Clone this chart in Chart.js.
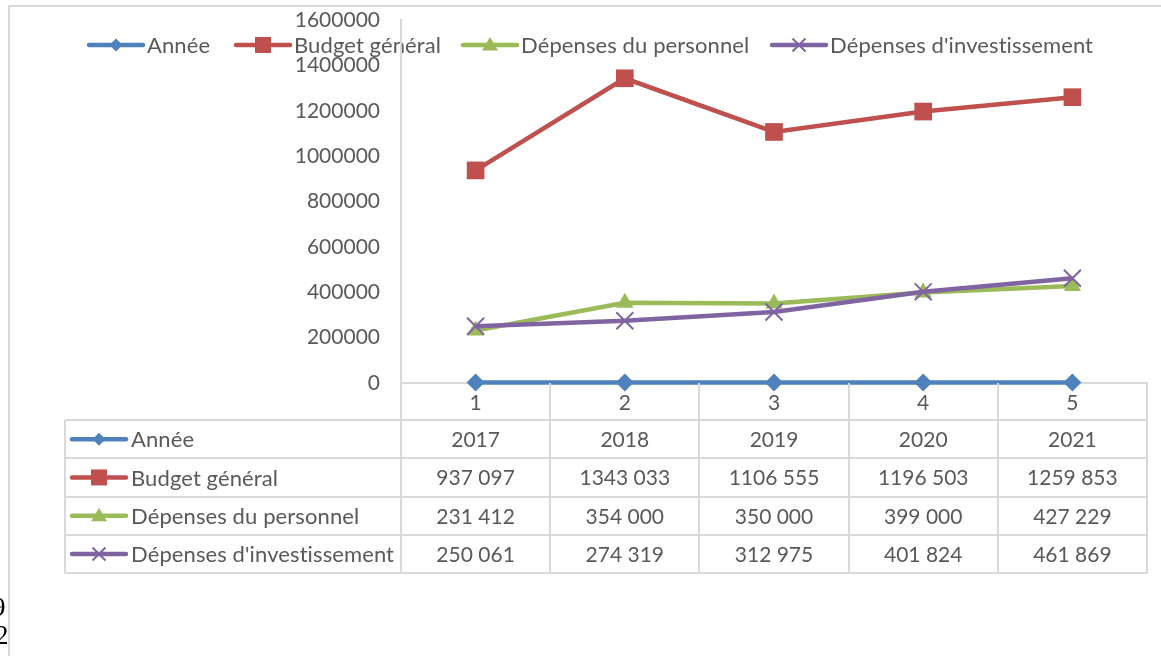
<!DOCTYPE html>
<html>
<head>
<meta charset="utf-8">
<script src="https://cdn.jsdelivr.net/npm/chart.js@4.4.0/dist/chart.umd.min.js"></script>
<style>
  html, body { margin: 0; padding: 0; background: #fff; overflow: hidden; }
  #wrap { position: relative; width: 1161px; height: 656px; }
  #c { position: absolute; left: 0; top: 0; }
  .clip { position: absolute; left: 0; width: 9px; height: 34px; overflow: hidden; }
  .clip span { position: absolute; left: -5px; top: 0; font-family: "Liberation Serif", serif; font-size: 27px; color: #000; }
</style>
</head>
<body>
<div id="wrap">
  <canvas id="c" width="1161" height="656"></canvas>
  <div class="clip" style="top:592px"><span style="left:-8px">9</span></div>
  <div class="clip" style="top:620px"><span>2</span></div>
</div>
<script>
// data
const categories = ['1', '2', '3', '4', '5']
const annee = [2017, 2018, 2019, 2020, 2021]
const budget = [937097, 1343033, 1106555, 1196503, 1259853]
const personnel = [231412, 354000, 350000, 399000, 427229]
const investissement = [250061, 274319, 312975, 401824, 461869]
const seriesNames = ['Année', 'Budget général', 'Dépenses du personnel', "Dépenses d'investissement"]
const yTicks = [0, 200000, 400000, 600000, 800000, 1000000, 1200000, 1400000, 1600000]

const colors = ['#4F81BD', '#C0504D', '#9BBB59', '#8064A2']
const markers = ['rectRot', 'rect', 'triangle', 'crossRot']
const radii = [9, 12.5, 10, 12]
const seriesData = [annee, budget, personnel, investissement]
const textColor = '#595959'
const lineGray = '#D9D9D9'
const FONT = 'Lato, "Open Sans", sans-serif'
const numFont = { family: FONT, size: 21 }

// 937097 -> "937 097", 1343033 -> "1343 033"
const fmt = v => v >= 1000 ? Math.floor(v / 1000) + ' ' + String(v % 1000).padStart(3, '0') : String(v)
const rowFmt = [v => String(v), fmt, fmt, fmt]

function marker(ctx, style, x, y, s, color) {
  ctx.save()
  ctx.fillStyle = color; ctx.strokeStyle = color
  ctx.beginPath()
  if (style === 'rectRot') {
    ctx.moveTo(x, y - s); ctx.lineTo(x + s, y); ctx.lineTo(x, y + s); ctx.lineTo(x - s, y); ctx.closePath(); ctx.fill()
  } else if (style === 'rect') {
    ctx.rect(x - s, y - s, 2 * s, 2 * s); ctx.fill()
  } else if (style === 'triangle') {
    ctx.moveTo(x, y - s); ctx.lineTo(x + s, y + s * 0.7); ctx.lineTo(x - s, y + s * 0.7); ctx.closePath(); ctx.fill()
  } else {
    ctx.lineWidth = 2
    ctx.moveTo(x - s, y - s); ctx.lineTo(x + s, y + s); ctx.moveTo(x + s, y - s); ctx.lineTo(x - s, y + s); ctx.stroke()
  }
  ctx.restore()
}
const legendSizes = [6.5, 8, 8, 6.5]

function symbol(ctx, i, x0, y) {
  ctx.save()
  ctx.strokeStyle = colors[i]; ctx.lineWidth = 4.5; ctx.lineCap = 'round'
  ctx.beginPath(); ctx.moveTo(x0, y); ctx.lineTo(x0 + 54, y); ctx.stroke()
  ctx.restore()
  marker(ctx, markers[i], x0 + 27, y, legendSizes[i], colors[i])
}

function labelText(ctx, s, x, y, align) {
  ctx.font = `22px ${FONT}`
  if ('letterSpacing' in ctx) ctx.letterSpacing = '0.1px'
  ctx.textAlign = align
  ctx.fillStyle = textColor
  ctx.fillText(s, x, y)
  if ('letterSpacing' in ctx) ctx.letterSpacing = '0px'
}

const extras = {
  id: 'extras',
  afterDraw(chart) {
    const ctx = chart.ctx, ca = chart.chartArea, xs = chart.scales.x
    ctx.save()
    // outer frame
    ctx.strokeStyle = lineGray; ctx.lineWidth = 2
    ctx.beginPath(); ctx.moveTo(9, 656); ctx.lineTo(9, 6); ctx.lineTo(1161, 6); ctx.stroke()

    // top legend
    const legX = [89, 236, 463, 772]
    ctx.textBaseline = 'middle'
    seriesNames.forEach((n, i) => {
      symbol(ctx, i, legX[i], 45)
      labelText(ctx, n, legX[i] + 58, 46, 'left')
    })

    // data table
    const top = ca.bottom + 37, rowH = 38.3, left = 65
    const bottom = top + rowH * seriesData.length
    const bounds = [ca.left]
    for (let i = 0; i < categories.length - 1; i++) bounds.push((xs.getPixelForValue(i) + xs.getPixelForValue(i + 1)) / 2)
    bounds.push(ca.right)
    ctx.strokeStyle = lineGray; ctx.lineWidth = 2
    ctx.beginPath()
    for (let r = 0; r <= seriesData.length; r++) {
      const y = Math.round(top + r * rowH)
      ctx.moveTo(left, y); ctx.lineTo(ca.right, y)
    }
    ctx.moveTo(left, top); ctx.lineTo(left, bottom)
    bounds.forEach((b, k) => { ctx.moveTo(Math.round(b), k === 0 ? ca.top : ca.bottom); ctx.lineTo(Math.round(b), bottom) })
    ctx.stroke()

    seriesData.forEach((arr, r) => {
      const yc = top + r * rowH + rowH / 2 + 1
      symbol(ctx, r, 72, yc - 1)
      labelText(ctx, seriesNames[r], 131, yc, 'left')
      ctx.font = `21px ${FONT}`; ctx.fillStyle = textColor; ctx.textAlign = 'center'
      arr.forEach((v, i) => ctx.fillText(rowFmt[r](v), xs.getPixelForValue(i), yc))
    })
    ctx.restore()
  }
}

new Chart(document.getElementById('c'), {
  type: 'line',
  data: {
    labels: categories,
    datasets: seriesData.map((d, i) => ({
      label: seriesNames[i],
      data: d,
      borderColor: colors[i],
      backgroundColor: colors[i],
      borderWidth: 4.5,
      tension: 0,
      pointStyle: markers[i],
      pointRadius: radii[i],
      pointBorderWidth: markers[i] === 'crossRot' ? 2 : 0,
      pointBorderColor: colors[i],
      pointBackgroundColor: colors[i],
      order: seriesData.length - i,
      clip: false
    }))
  },
  options: {
    responsive: false,
    animation: false,
    events: [],
    layout: { padding: { left: 0, right: 14, top: 20, bottom: 236 } },
    plugins: { legend: { display: false }, tooltip: { enabled: false } },
    scales: {
      x: {
        offset: true,
        grid: { display: false, drawTicks: false },
        border: { display: true, color: lineGray, width: 2 },
        ticks: { padding: 8, font: numFont, color: textColor },
        afterFit(s) { s.height = 37 }
      },
      y: {
        min: 0, max: 1600000,
        grid: { display: false, drawTicks: false },
        border: { display: true, color: lineGray, width: 2 },
        ticks: { padding: 21, font: numFont, color: textColor, callback: v => String(v) },
        afterBuildTicks(s) { s.ticks = yTicks.map(v => ({ value: v })) },
        afterFit(s) { s.width = 401; s.paddingTop = 0; s.paddingBottom = 0 }
      }
    }
  },
  plugins: [extras]
})
</script>
</body>
</html>
